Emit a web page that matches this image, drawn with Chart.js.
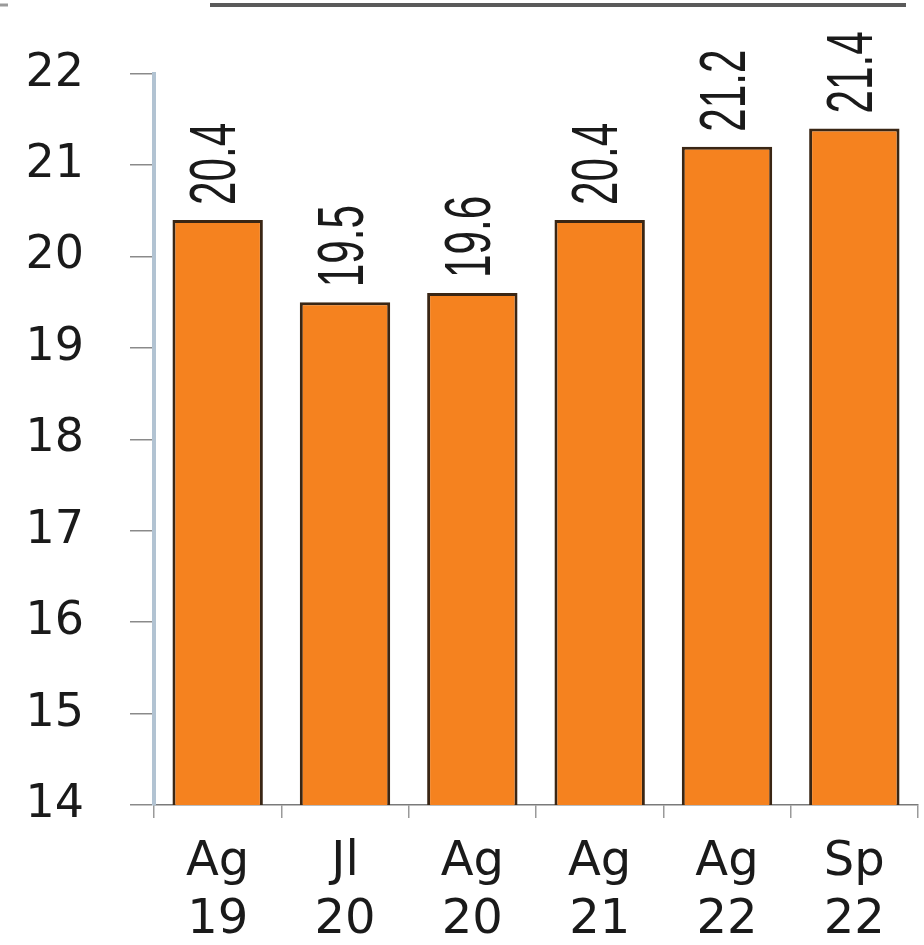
<!DOCTYPE html>
<html>
<head>
<meta charset="utf-8">
<script src="https://cdn.jsdelivr.net/npm/chart.js@4/dist/chart.umd.min.js"></script>
<style>
  html, body { margin: 0; padding: 0; background: #ffffff; }
  #wrap { width: 924px; height: 945px; position: relative; }
</style>
</head>
<body>
<div id="wrap"><canvas id="c" width="924" height="945"></canvas></div>
<script>
const categories = [["Ag", "19"], ["Jl", "20"], ["Ag", "20"], ["Ag", "21"], ["Ag", "22"], ["Sp", "22"]];
const values = [20.4, 19.5, 19.6, 20.4, 21.2, 21.4];
const valueLabels = ["20.4", "19.5", "19.6", "20.4", "21.2", "21.4"];
const yTicks = [14, 15, 16, 17, 18, 19, 20, 21, 22];

const decor = {
  id: 'decor',
  beforeDraw(chart) {
    const ctx = chart.ctx;
    ctx.save();
    ctx.strokeStyle = '#5a5a5a';
    ctx.lineWidth = 4;
    ctx.beginPath();
    ctx.moveTo(210, 5); ctx.lineTo(906, 5);
    ctx.stroke();
    ctx.strokeStyle = '#9a9a9a';
    ctx.lineWidth = 3;
    ctx.beginPath();
    ctx.moveTo(0, 5); ctx.lineTo(8, 5);
    ctx.stroke();
    ctx.restore();
  }
};

const valueLabelPlugin = {
  id: 'valueLabels',
  afterDatasetsDraw(chart) {
    const ctx = chart.ctx;
    const meta = chart.getDatasetMeta(0);
    ctx.save();
    ctx.fillStyle = '#1a1a1a';
    ctx.font = '64px "Liberation Sans", Arial, sans-serif';
    ctx.textAlign = 'left';
    ctx.textBaseline = 'middle';
    meta.data.forEach((bar, i) => {
      ctx.save();
      ctx.translate(bar.x - 2, bar.y - 15);
      ctx.rotate(-Math.PI / 2);
      ctx.scale(0.66, 1);
      ctx.fillText(valueLabels[i], 0, 2);
      ctx.restore();
    });
    ctx.restore();
  }
};

new Chart(document.getElementById('c'), {
  type: 'bar',
  data: {
    labels: categories,
    datasets: [{
      data: values,
      backgroundColor: '#f5821f',
      borderColor: '#3a2614',
      borderWidth: 3,
      borderSkipped: false,
      categoryPercentage: 1.0,
      barPercentage: 0.71
    }]
  },
  options: {
    responsive: false,
    animation: false,
    devicePixelRatio: 1,
    layout: { padding: { top: 50, left: 20, right: 6, bottom: 0 } },
    plugins: { legend: { display: false }, tooltip: { enabled: false } },
    scales: {
      x: {
        grid: { drawOnChartArea: false, drawTicks: true, tickLength: 13, color: '#9a9a9a', lineWidth: 1.5 },
        border: { display: true, color: '#7a7a7a', width: 1.5 },
        ticks: {
          color: '#1a1a1a',
          font: { family: '"DejaVu Sans", sans-serif', size: 48, lineHeight: 1.2 },
          padding: 16,
          maxRotation: 0,
          autoSkip: false
        },
        afterFit(axis) { axis.height = 140; }
      },
      y: {
        min: 14,
        max: 22,
        afterBuildTicks(axis) { axis.ticks = yTicks.map(v => ({ value: v })); },
        grid: { drawOnChartArea: false, drawTicks: true, tickLength: 24, color: '#8a8a8a', lineWidth: 1.5 },
        border: { display: true, color: '#b2c3d2', width: 4 },
        ticks: {
          color: '#1a1a1a',
          font: { family: '"DejaVu Sans", sans-serif', size: 46 },
          padding: 46
        },
        afterFit(axis) { axis.width = 134; }
      }
    }
  },
  plugins: [decor, valueLabelPlugin]
});
</script>
</body>
</html>
